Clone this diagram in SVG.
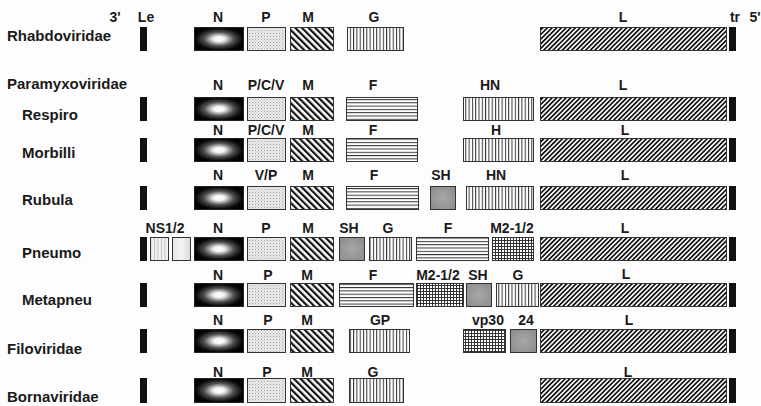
<svg xmlns="http://www.w3.org/2000/svg" width="761" height="406" viewBox="0 0 761 406">
<style>
.bg{fill:#fdfdfd}
.lab{font-family:"Liberation Sans",Arial,sans-serif;font-weight:bold;font-size:15px;fill:#1a1a1a}
.t{font-family:"Liberation Sans",Arial,sans-serif;font-weight:bold;font-size:14px;fill:#1a1a1a;text-anchor:middle}
.bx{stroke:#333;stroke-width:1}
.bar{fill:#111}
.n{fill:url(#gN);stroke:#222;stroke-width:1}
.p{fill:url(#pP)}
.m{fill:url(#pM)}
.g{fill:url(#pG)}
.f{fill:url(#pF)}
.l{fill:url(#pL)}
.sh{fill:url(#gSH)}
.grid{fill:url(#pX)}
.ns1{fill:url(#pNS)}
.ns2{fill:url(#gNS)}
</style>
<defs>
<radialGradient id="gN" cx="0.5" cy="0.5" r="0.55">
<stop offset="0" stop-color="#ffffff"/>
<stop offset="0.2" stop-color="#f4f4f4"/>
<stop offset="0.55" stop-color="#505050"/>
<stop offset="0.85" stop-color="#0a0a0a"/>
<stop offset="1" stop-color="#000"/>
</radialGradient>
<radialGradient id="gSH" cx="0.5" cy="0.5" r="0.7">
<stop offset="0" stop-color="#a8a8a8"/>
<stop offset="1" stop-color="#8a8a8a"/>
</radialGradient>
<linearGradient id="gNS" x1="0" y1="0" x2="1" y2="0">
<stop offset="0" stop-color="#e4e4e4"/>
<stop offset="0.5" stop-color="#f4f4f4"/>
<stop offset="1" stop-color="#d8d8d8"/>
</linearGradient>
<pattern id="pP" width="3" height="3" patternUnits="userSpaceOnUse">
<rect width="3" height="3" fill="#ececec"/>
<rect x="0" y="0" width="1" height="1" fill="#a0a0a0"/>
<rect x="1.5" y="1.5" width="1" height="1" fill="#bdbdbd"/>
</pattern>
<pattern id="pM" width="4.7" height="4.7" patternUnits="userSpaceOnUse" patternTransform="rotate(-45)">
<rect width="4.7" height="4.7" fill="#fff"/>
<rect width="2.2" height="4.7" fill="#111"/>
</pattern>
<pattern id="pL" width="3.3" height="3.3" patternUnits="userSpaceOnUse" patternTransform="rotate(45)">
<rect width="3.3" height="3.3" fill="#fff"/>
<rect width="1.7" height="3.3" fill="#111"/>
</pattern>
<pattern id="pG" width="3.3" height="3.3" patternUnits="userSpaceOnUse">
<rect width="3.3" height="3.3" fill="#fff"/>
<rect width="1" height="3.3" fill="#333"/>
</pattern>
<pattern id="pF" width="3.3" height="3.3" patternUnits="userSpaceOnUse">
<rect width="3.3" height="3.3" fill="#fff"/>
<rect width="3.3" height="1" fill="#333"/>
</pattern>
<pattern id="pX" width="3" height="3" patternUnits="userSpaceOnUse">
<rect width="3" height="3" fill="#fff"/>
<rect width="0.9" height="3" fill="#222"/>
<rect width="3" height="0.9" fill="#222"/>
</pattern>
<pattern id="pNS" width="3.5" height="3.5" patternUnits="userSpaceOnUse">
<rect width="3.5" height="3.5" fill="#f0f0f0"/>
<rect width="0.8" height="3.5" fill="#bbb"/>
</pattern>
</defs>
<rect class="bg" width="761" height="406"/>

<text class="t" x="115" y="22">3'</text>
<text class="t" x="146" y="22">Le</text>
<text class="t" x="735" y="22">tr</text>
<text class="t" x="755" y="22">5'</text>

<g id="rhabdoviridae">
<text class="lab" x="7" y="41">Rhabdoviridae</text>
<text class="t" x="218" y="22">N</text><text class="t" x="266" y="22">P</text><text class="t" x="308" y="22">M</text><text class="t" x="374" y="22">G</text><text class="t" x="623" y="22">L</text>
<rect class="bar" x="140" y="27" width="7" height="24"/>
<rect class="n" x="194.5" y="27.5" width="49" height="23"/>
<rect class="p bx" x="247.5" y="27.5" width="38" height="23"/>
<rect class="m bx" x="290.5" y="27.5" width="43" height="23"/>
<rect class="g bx" x="347.5" y="27.5" width="56" height="23"/>
<rect class="l bx" x="540.5" y="27.5" width="186" height="23"/>
<rect class="bar" x="729" y="27" width="7" height="24"/>
</g>

<g id="paramyxoviridae">
<text class="lab" x="7" y="89">Paramyxoviridae</text>
</g>

<g id="respiro">
<text class="lab" x="22" y="120">Respiro</text>
<text class="t" x="218" y="90">N</text><text class="t" x="266" y="90">P/C/V</text><text class="t" x="308" y="90">M</text><text class="t" x="373" y="90">F</text><text class="t" x="490" y="90">HN</text><text class="t" x="623" y="90">L</text>
<rect class="bar" x="140" y="97" width="7" height="24"/>
<rect class="n" x="194.5" y="97.5" width="49" height="23"/>
<rect class="p bx" x="247.5" y="97.5" width="38" height="23"/>
<rect class="m bx" x="290.5" y="97.5" width="43" height="23"/>
<rect class="f bx" x="346.5" y="97.5" width="71" height="23"/>
<rect class="g bx" x="463.5" y="97.5" width="70" height="23"/>
<rect class="l bx" x="540.5" y="97.5" width="186" height="23"/>
<rect class="bar" x="729" y="97" width="7" height="24"/>
</g>

<g id="morbilli">
<text class="lab" x="22" y="158">Morbilli</text>
<text class="t" x="218" y="135">N</text><text class="t" x="266" y="135">P/C/V</text><text class="t" x="308" y="135">M</text><text class="t" x="373" y="135">F</text><text class="t" x="496" y="135">H</text><text class="t" x="625" y="135">L</text>
<rect class="bar" x="140" y="138" width="7" height="24"/>
<rect class="n" x="194.5" y="138.5" width="49" height="23"/>
<rect class="p bx" x="247.5" y="138.5" width="38" height="23"/>
<rect class="m bx" x="290.5" y="138.5" width="43" height="23"/>
<rect class="f bx" x="346.5" y="138.5" width="71" height="23"/>
<rect class="g bx" x="463.5" y="138.5" width="70" height="23"/>
<rect class="l bx" x="540.5" y="138.5" width="186" height="23"/>
<rect class="bar" x="729" y="138" width="7" height="24"/>
</g>

<g id="rubula">
<text class="lab" x="22" y="205">Rubula</text>
<text class="t" x="218" y="180">N</text><text class="t" x="266" y="180">V/P</text><text class="t" x="308" y="180">M</text><text class="t" x="374" y="180">F</text><text class="t" x="441" y="180">SH</text><text class="t" x="496" y="180">HN</text><text class="t" x="625" y="180">L</text>
<rect class="bar" x="140" y="186" width="7" height="24"/>
<rect class="n" x="194.5" y="186.5" width="49" height="23"/>
<rect class="p bx" x="247.5" y="186.5" width="38" height="23"/>
<rect class="m bx" x="290.5" y="186.5" width="43" height="23"/>
<rect class="f bx" x="346.5" y="186.5" width="72" height="23"/>
<rect class="sh bx" x="430.5" y="186.5" width="25" height="23"/>
<rect class="g bx" x="466.5" y="186.5" width="67" height="23"/>
<rect class="l bx" x="540.5" y="186.5" width="186" height="23"/>
<rect class="bar" x="729" y="186" width="7" height="24"/>
</g>

<g id="pneumo">
<text class="lab" x="22" y="258">Pneumo</text>
<text class="t" x="165" y="233">NS1/2</text><text class="t" x="218" y="233">N</text><text class="t" x="266" y="233">P</text><text class="t" x="308" y="233">M</text><text class="t" x="349" y="233">SH</text><text class="t" x="388" y="233">G</text><text class="t" x="448" y="233">F</text><text class="t" x="512" y="233">M2-1/2</text><text class="t" x="625" y="233">L</text>
<rect class="bar" x="140" y="237" width="7" height="24"/>
<rect class="ns1 bx" x="150.5" y="237.5" width="18" height="23"/>
<rect class="ns2 bx" x="172.5" y="237.5" width="18" height="23"/>
<rect class="n" x="194.5" y="237.5" width="49" height="23"/>
<rect class="p bx" x="247.5" y="237.5" width="38" height="23"/>
<rect class="m bx" x="290.5" y="237.5" width="43" height="23"/>
<rect class="sh bx" x="339.5" y="237.5" width="25" height="23"/>
<rect class="g bx" x="369.5" y="237.5" width="42" height="23"/>
<rect class="f bx" x="416.5" y="237.5" width="72" height="23"/>
<rect class="grid bx" x="492.5" y="237.5" width="41" height="23"/>
<rect class="l bx" x="540.5" y="237.5" width="186" height="23"/>
<rect class="bar" x="729" y="237" width="7" height="24"/>
</g>

<g id="metapneu">
<text class="lab" x="22" y="305">Metapneu</text>
<text class="t" x="218" y="280">N</text><text class="t" x="268" y="280">P</text><text class="t" x="307" y="280">M</text><text class="t" x="373" y="280">F</text><text class="t" x="438" y="280">M2-1/2</text><text class="t" x="478" y="280">SH</text><text class="t" x="518" y="280">G</text><text class="t" x="626" y="279">L</text>
<rect class="bar" x="140" y="283" width="7" height="24"/>
<rect class="n" x="194.5" y="283.5" width="49" height="23"/>
<rect class="p bx" x="247.5" y="283.5" width="38" height="23"/>
<rect class="m bx" x="290.5" y="283.5" width="43" height="23"/>
<rect class="f bx" x="339.5" y="283.5" width="74" height="23"/>
<rect class="grid bx" x="416.5" y="283.5" width="47" height="23"/>
<rect class="sh bx" x="466.5" y="283.5" width="25" height="23"/>
<rect class="g bx" x="496.5" y="283.5" width="42" height="23"/>
<rect class="l bx" x="540.5" y="283.5" width="186" height="23"/>
<rect class="bar" x="729" y="283" width="7" height="24"/>
</g>

<g id="filoviridae">
<text class="lab" x="7" y="354">Filoviridae</text>
<text class="t" x="218" y="325">N</text><text class="t" x="268" y="325">P</text><text class="t" x="307" y="325">M</text><text class="t" x="380" y="325">GP</text><text class="t" x="488" y="325">vp30</text><text class="t" x="526" y="325">24</text><text class="t" x="629" y="325">L</text>
<rect class="bar" x="140" y="329" width="7" height="24"/>
<rect class="n" x="194.5" y="329.5" width="49" height="23"/>
<rect class="p bx" x="247.5" y="329.5" width="38" height="23"/>
<rect class="m bx" x="290.5" y="329.5" width="43" height="23"/>
<rect class="g bx" x="349.5" y="329.5" width="60" height="23"/>
<rect class="grid bx" x="463.5" y="329.5" width="42" height="23"/>
<rect class="sh bx" x="510.5" y="329.5" width="26" height="23"/>
<rect class="l bx" x="540.5" y="329.5" width="186" height="23"/>
<rect class="bar" x="729" y="329" width="7" height="24"/>
</g>

<g id="bornaviridae">
<text class="lab" x="7" y="402">Bornaviridae</text>
<text class="t" x="218" y="377">N</text><text class="t" x="267" y="377">P</text><text class="t" x="307" y="377">M</text><text class="t" x="373" y="377">G</text><text class="t" x="628" y="377">L</text>
<rect class="bar" x="140" y="378" width="7" height="25"/>
<rect class="n" x="194.5" y="378.5" width="49" height="24"/>
<rect class="p bx" x="247.5" y="378.5" width="38" height="24"/>
<rect class="m bx" x="290.5" y="378.5" width="43" height="24"/>
<rect class="g bx" x="349.5" y="378.5" width="54" height="24"/>
<rect class="l bx" x="540.5" y="378.5" width="186" height="24"/>
<rect class="bar" x="729" y="378" width="7" height="25"/>
</g>

<g id="connectors"/>
</svg>
